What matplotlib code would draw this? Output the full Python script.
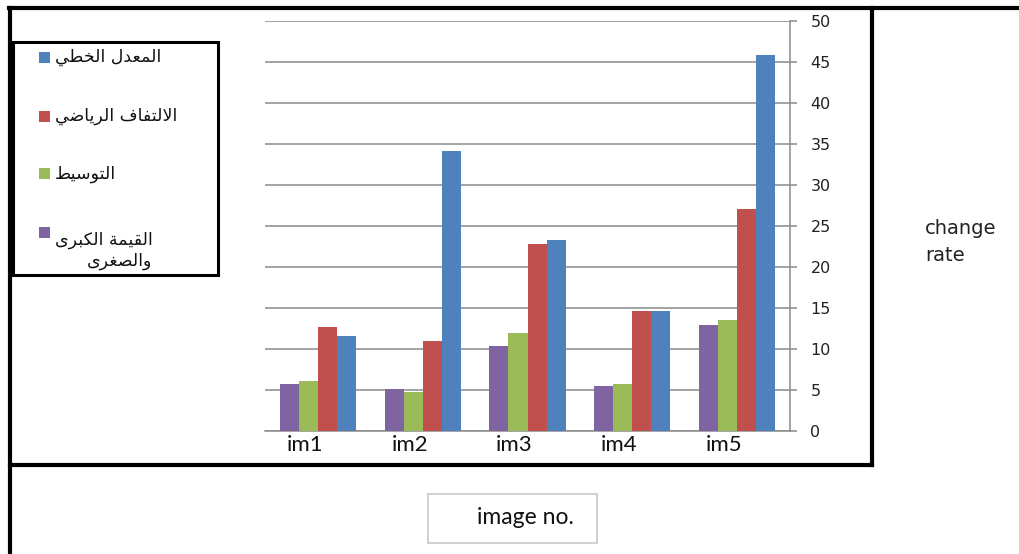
import matplotlib
matplotlib.use("Agg")
import matplotlib.pyplot as plt
import numpy as np
from matplotlib.patches import Rectangle
from matplotlib.lines import Line2D
from matplotlib.transforms import ScaledTranslation

# ---- data -------------------------------------------------------------
categories = ["im1", "im2", "im3", "im4", "im5"]
series_names = ["القيمة الكبرى\nوالصغرى", "التوسيط", "الالتفاف الرياضي", "المعدل الخطي"]
series_colors = ["#8064A2", "#9BBB59", "#C0504D", "#4F81BD"]
max_min = [5.7, 5.1, 10.3, 5.5, 12.9]
median = [6.1, 4.7, 11.9, 5.7, 13.5]
convolution = [12.7, 10.9, 22.8, 14.6, 27.0]
linear = [11.5, 34.1, 23.2, 14.6, 45.8]
series_values = [max_min, median, convolution, linear]
y_ticks = list(range(0, 51, 5))

# ---- minimal Arabic shaping (presentation forms, visual order) --------
FORMS = {
    "ا": ("\uFE8D", "\uFE8E", None, None),
    "ب": ("\uFE8F", "\uFE90", "\uFE91", "\uFE92"),
    "ة": ("\uFE93", "\uFE94", None, None),
    "ت": ("\uFE95", "\uFE96", "\uFE97", "\uFE98"),
    "خ": ("\uFEA5", "\uFEA6", "\uFEA7", "\uFEA8"),
    "د": ("\uFEA9", "\uFEAA", None, None),
    "ر": ("\uFEAD", "\uFEAE", None, None),
    "س": ("\uFEB1", "\uFEB2", "\uFEB3", "\uFEB4"),
    "ص": ("\uFEB9", "\uFEBA", "\uFEBB", "\uFEBC"),
    "ض": ("\uFEBD", "\uFEBE", "\uFEBF", "\uFEC0"),
    "ط": ("\uFEC1", "\uFEC2", "\uFEC3", "\uFEC4"),
    "ع": ("\uFEC9", "\uFECA", "\uFECB", "\uFECC"),
    "غ": ("\uFECD", "\uFECE", "\uFECF", "\uFED0"),
    "ف": ("\uFED1", "\uFED2", "\uFED3", "\uFED4"),
    "ق": ("\uFED5", "\uFED6", "\uFED7", "\uFED8"),
    "ك": ("\uFED9", "\uFEDA", "\uFEDB", "\uFEDC"),
    "ل": ("\uFEDD", "\uFEDE", "\uFEDF", "\uFEE0"),
    "م": ("\uFEE1", "\uFEE2", "\uFEE3", "\uFEE4"),
    "ن": ("\uFEE5", "\uFEE6", "\uFEE7", "\uFEE8"),
    "و": ("\uFEED", "\uFEEE", None, None),
    "ى": ("\uFEEF", "\uFEF0", None, None),
    "ي": ("\uFEF1", "\uFEF2", "\uFEF3", "\uFEF4"),
    "لا": ("\uFEFB", "\uFEFC", None, None),
}


def shape_line(text):
    letters = []
    i = 0
    while i < len(text):
        if text[i] == "ل" and i + 1 < len(text) and text[i + 1] == "ا":
            letters.append("لا")
            i += 2
        else:
            letters.append(text[i])
            i += 1
    out = []
    for j, ch in enumerate(letters):
        if ch not in FORMS:
            out.append(ch)
            continue
        iso, fin, ini, med = FORMS[ch]
        prev_joins = j > 0 and letters[j - 1] in FORMS and FORMS[letters[j - 1]][2] is not None
        next_joins = (ini is not None and j + 1 < len(letters) and letters[j + 1] in FORMS)
        if prev_joins and next_joins:
            out.append(med)
        elif prev_joins:
            out.append(fin)
        elif next_joins:
            out.append(ini)
        else:
            out.append(iso)
    return "".join(reversed(out))


def shape(text):
    return "\n".join(shape_line(line) for line in text.split("\n"))


# ---- figure -----------------------------------------------------------
W, H = 1019, 554
fig = plt.figure(figsize=(W / 100, H / 100), dpi=100)
fig.patch.set_facecolor("white")


def fx(x):
    return x / W


def fy(y):
    return 1 - y / H


ax = fig.add_axes([fx(265.4), fy(430.7), fx(789.6) - fx(265.4), fy(20.7) - fy(430.7)])

n = len(series_values)
bw = 1 / 5.5
x = np.arange(len(categories))
for k, (vals, col) in enumerate(zip(series_values, series_colors)):
    ax.bar(x + (k - (n - 1) / 2) * bw, vals, width=bw, color=col,
           edgecolor="none", zorder=3)

grid_c = "#8A8A8A"
ax.set_xlim(-0.5, len(categories) - 0.5)
ax.set_ylim(0, 50)
ax.set_yticks(y_ticks)
ax.yaxis.tick_right()
ax.grid(axis="y", color=grid_c, linewidth=1.1, zorder=0)
ax.set_axisbelow(True)
for s in ["top", "left"]:
    ax.spines[s].set_visible(False)
for s in ["right", "bottom"]:
    ax.spines[s].set_color(grid_c)
    ax.spines[s].set_linewidth(1.1)
ax.tick_params(axis="y", direction="out", length=5, width=1.1, color=grid_c,
               pad=10, labelsize=11.5, labelcolor="#222222")
ax.set_xticks(x)
ax.set_xticklabels(categories, fontsize=16, fontfamily="Lato", color="#111111")
ax.tick_params(axis="x", length=0, pad=3)
for lbl in ax.get_xticklabels():
    lbl.set_transform(lbl.get_transform() + ScaledTranslation(-0.13, 0, fig.dpi_scale_trans))

# ---- outer frame ------------------------------------------------------
frame_kw = dict(color="black", linewidth=3, transform=fig.transFigure, solid_capstyle="projecting")
fig.add_artist(Line2D([fx(9), 1.0], [fy(8), fy(8)], **frame_kw))
fig.add_artist(Line2D([fx(10), fx(10)], [fy(8), 0.0], **frame_kw))
fig.add_artist(Line2D([fx(872), fx(872)], [fy(8), fy(465)], **frame_kw))
fig.add_artist(Line2D([fx(10), fx(872)], [fy(465), fy(465)], **frame_kw))

# ---- legend -----------------------------------------------------------
fig.add_artist(Rectangle((fx(13), fy(275)), fx(218) - fx(13), fy(42) - fy(275),
                         transform=fig.transFigure, facecolor="white",
                         edgecolor="black", linewidth=2.2))
legend_rows = [57, 116, 174, 232]
for name, col, yy in zip(series_names[::-1], series_colors[::-1], legend_rows):
    fig.add_artist(Rectangle((fx(39), fy(yy + 5.5)), fx(11), 11 / H,
                             transform=fig.transFigure, facecolor=col, edgecolor="none"))
    fig.text(fx(55), fy(yy - 1 if "\n" in name else yy), shape(name), ha="left",
             va="top" if "\n" in name else "center",
             multialignment="right", fontsize=12.5, fontfamily="DejaVu Sans",
             linespacing=1.2, color="#111111")

# ---- axis titles ------------------------------------------------------
fig.text(fx(925), fy(242), "change\nrate", ha="left", va="center", fontsize=14,
         linespacing=1.5, color="#222222")
fig.add_artist(Rectangle((fx(428), fy(543)), fx(597) - fx(428), fy(494) - fy(543),
                         transform=fig.transFigure, facecolor="white",
                         edgecolor="#C8C8C8", linewidth=1.2))
fig.text(fx(477), fy(518), "image no.", ha="left", va="center", fontsize=16.5,
         fontfamily="Lato", color="#111111")

fig.savefig("out.png", dpi=100)
